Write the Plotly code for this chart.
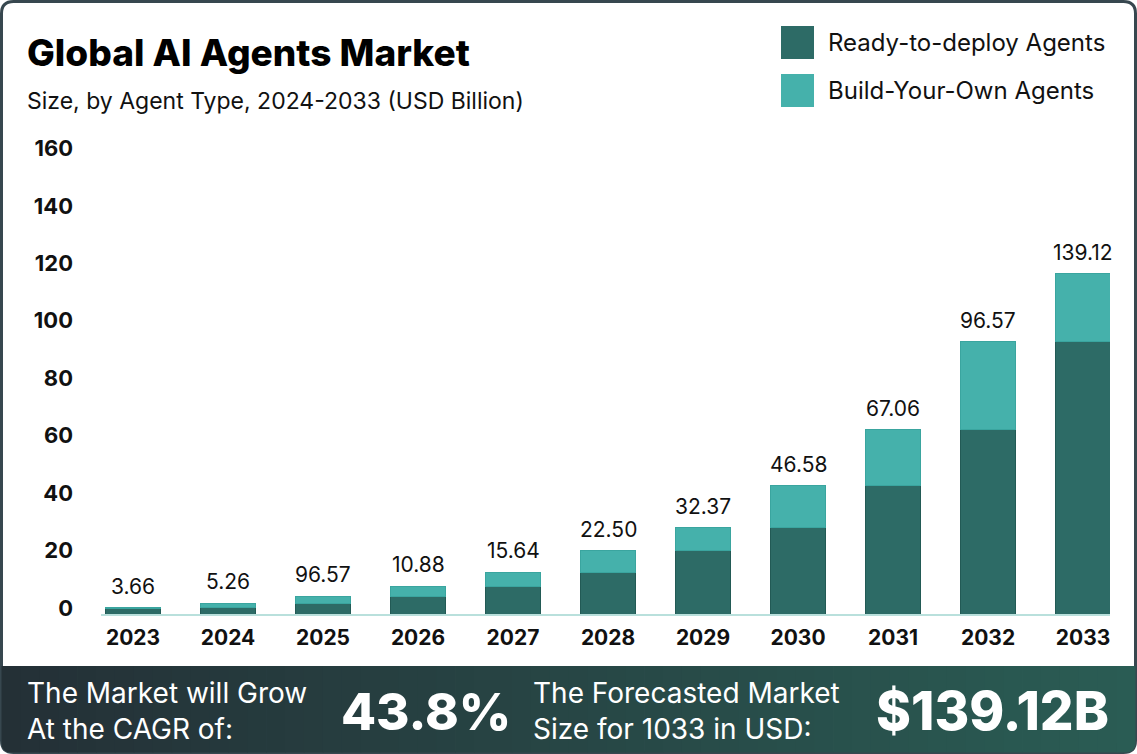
import plotly.graph_objects as go

years = ["2023", "2024", "2025", "2026", "2027", "2028", "2029", "2030", "2031", "2032", "2033"]
ready_to_deploy = [1.9, 2.2, 3.8, 6.1, 9.7, 14.5, 22.1, 30.1, 44.7, 64.2, 94.7]
build_your_own = [0.3, 1.6, 2.3, 3.6, 4.8, 7.6, 8.0, 14.6, 19.5, 30.5, 23.8]
value_labels = ["3.66", "5.26", "96.57", "10.88", "15.64", "22.50", "32.37", "46.58", "67.06", "96.57", "139.12"]
y_ticks = [0, 20, 40, 60, 80, 100, 120, 140, 160]

W, H = 1137, 754
L, R, T, B = 101, 27, 140, 140
PW, PH = W - L - R, H - T - B

def px(x):
    return (x - L) / PW

def py(y):
    return (H - B - y) / PH

DARK = "#2d6b66"
LIGHT = "#45b1ab"
FONT = "Inter"

xs = list(range(len(years)))

fig = go.Figure()
fig.add_trace(go.Bar(x=xs, y=ready_to_deploy, name="Ready-to-deploy Agents",
                     marker=dict(color=DARK, line=dict(color="#225a55", width=1)), width=0.57,
                     showlegend=False, hoverinfo="skip"))
fig.add_trace(go.Bar(x=xs, y=build_your_own, name="Build-Your-Own Agents",
                     marker=dict(color=LIGHT, line=dict(color="#3aa59f", width=1)), width=0.57,
                     showlegend=False, hoverinfo="skip"))

totals = [a + b for a, b in zip(ready_to_deploy, build_your_own)]
annotations = []
for xi, tot, lab in zip(xs, totals, value_labels):
    annotations.append(dict(x=xi, y=tot, xref="x", yref="y", text=lab, showarrow=False,
                            yanchor="bottom", yshift=7,
                            font=dict(family=FONT, size=21, color="#111111")))

shapes = []

def rrect(x0, y0, x1, y1, r):
    X0, X1 = px(x0), px(x1)
    Y0, Y1 = py(y0), py(y1)
    rx, ry = r / PW, r / PH
    return (f"M {X0+rx} {Y0} L {X1-rx} {Y0} Q {X1} {Y0} {X1} {Y0-ry} L {X1} {Y1+ry} "
            f"Q {X1} {Y1} {X1-rx} {Y1} L {X0+rx} {Y1} Q {X0} {Y1} {X0} {Y1+ry} "
            f"L {X0} {Y0-ry} Q {X0} {Y0} {X0+rx} {Y0} Z")

shapes.append(dict(type="path", xref="paper", yref="paper", path=rrect(1.5, 1.5, W - 1.5, H - 1.5, 12),
                   fillcolor="white", line=dict(color="#37474f", width=3), layer="below"))

# bottom band gradient
c0 = (0x24, 0x30, 0x36)
c1 = (0x2a, 0x5c, 0x54)
N = 60
band_top, band_bot = 666, H - 1.5
sw = (W - 3) / N
for i in range(N):
    t = i / (N - 1)
    col = "rgb({},{},{})".format(*[round(a + (b - a) * t) for a, b in zip(c0, c1)])
    x0 = 1.5 + i * sw
    x1 = x0 + sw + 0.8
    r = 10
    if i == 0:
        p = (f"M {px(x0)} {py(band_top)} L {px(x1)} {py(band_top)} L {px(x1)} {py(band_bot)} "
             f"L {px(x0 + r)} {py(band_bot)} Q {px(x0)} {py(band_bot)} {px(x0)} {py(band_bot - r)} Z")
        shapes.append(dict(type="path", xref="paper", yref="paper", path=p, fillcolor=col,
                           line=dict(width=0), layer="below"))
    elif i == N - 1:
        x1 = W - 1.5
        p = (f"M {px(x0)} {py(band_top)} L {px(x1)} {py(band_top)} L {px(x1)} {py(band_bot - r)} "
             f"Q {px(x1)} {py(band_bot)} {px(x1 - r)} {py(band_bot)} L {px(x0)} {py(band_bot)} Z")
        shapes.append(dict(type="path", xref="paper", yref="paper", path=p, fillcolor=col,
                           line=dict(width=0), layer="below"))
    else:
        shapes.append(dict(type="rect", xref="paper", yref="paper", x0=px(x0), x1=px(x1),
                           y0=py(band_top), y1=py(band_bot), fillcolor=col,
                           line=dict(width=0), layer="below"))

# legend swatches
for (y0, y1), col, name in [((26, 59), DARK, "Ready-to-deploy Agents"),
                            ((74, 107), LIGHT, "Build-Your-Own Agents")]:
    shapes.append(dict(type="rect", xref="paper", yref="paper", x0=px(781), x1=px(814),
                       y0=py(y1), y1=py(y0), fillcolor=col, line=dict(width=0)))
    annotations.append(dict(x=px(826), y=py((y0 + y1) / 2), xref="paper", yref="paper", text=name,
                            showarrow=False, xanchor="left", yanchor="middle",
                            font=dict(family=FONT, size=24, color="#111111")))

# titles
annotations.append(dict(x=px(25), y=py(52), xref="paper", yref="paper", text="Global AI Agents Market",
                        showarrow=False, xanchor="left", yanchor="middle",
                        font=dict(family=FONT, size=37, color="#000000", weight=800)))
annotations.append(dict(x=px(25), y=py(101), xref="paper", yref="paper",
                        text="Size, by Agent Type, 2024-2033 (USD Billion)",
                        showarrow=False, xanchor="left", yanchor="middle",
                        font=dict(family=FONT, size=23, color="#111111")))

# bottom band texts
annotations.append(dict(x=px(25), y=py(711), xref="paper", yref="paper",
                        text="The Market will Grow<br>At the CAGR of:", showarrow=False,
                        xanchor="left", yanchor="middle", align="left",
                        font=dict(family=FONT, size=28, color="white")))
annotations.append(dict(x=px(426), y=py(711), xref="paper", yref="paper", text="43.8%",
                        showarrow=False, xanchor="center", yanchor="middle",
                        font=dict(family=FONT, size=51, color="white", weight=800)))
annotations.append(dict(x=px(531), y=py(711), xref="paper", yref="paper",
                        text="The Forecasted Market<br>Size for 1033 in USD:", showarrow=False,
                        xanchor="left", yanchor="middle", align="left",
                        font=dict(family=FONT, size=28, color="white")))
annotations.append(dict(x=px(1111), y=py(711), xref="paper", yref="paper", text="$139.12B",
                        showarrow=False, xanchor="right", yanchor="middle",
                        font=dict(family=FONT, size=53, color="white", weight=800)))

fig.update_layout(
    width=W, height=H, margin=dict(l=L, r=R, t=T, b=B, autoexpand=False),
    paper_bgcolor="white", plot_bgcolor="rgba(0,0,0,0)",
    barmode="stack", showlegend=False,
    shapes=shapes, annotations=annotations,
    xaxis=dict(range=[-0.337, 10.284], tickvals=xs, ticktext=years, showgrid=False, zeroline=False,
               showline=True, linecolor="#b9e0dc", linewidth=2, ticks="",
               tickfont=dict(family=FONT, size=21, color="#111111", weight=700),
               ticklabelstandoff=4),
    yaxis=dict(range=[0, 165], tickvals=y_ticks, showgrid=False, zeroline=False, showline=False,
               ticks="", tickfont=dict(family=FONT, size=22, color="#111111", weight=700),
               ticklabelstandoff=27, ticklabelshift=-6),
)

fig.write_html("out.html", config={"displayModeBar": False},
               post_script="document.body.style.margin='0';document.body.style.overflow='hidden';")
